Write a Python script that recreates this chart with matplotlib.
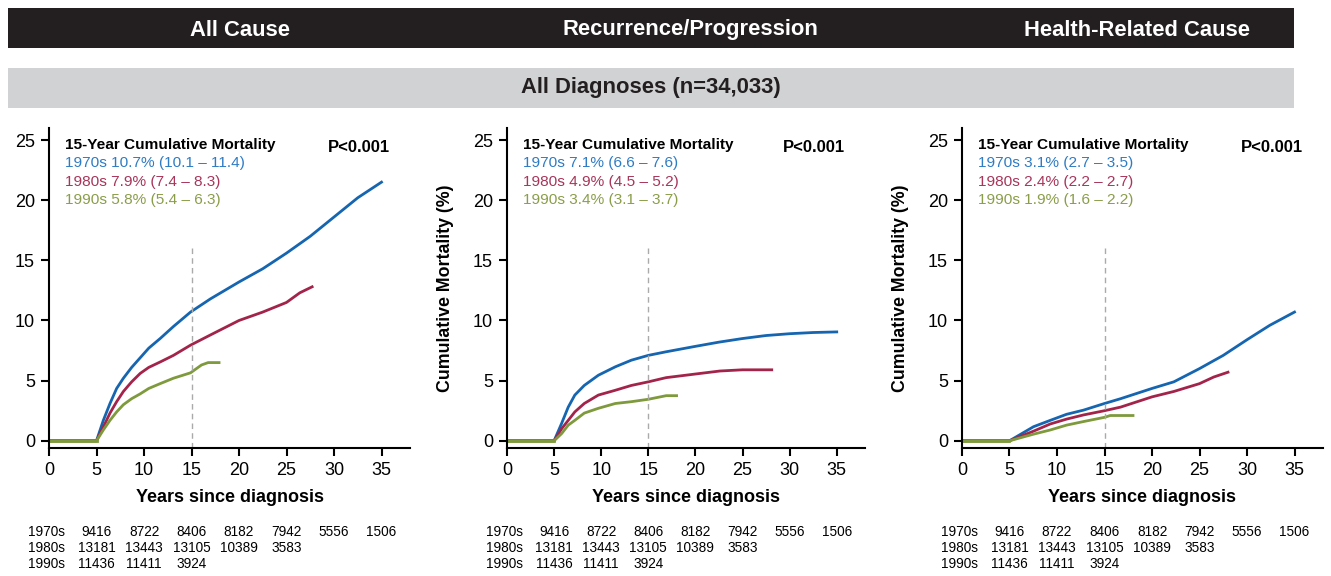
import numpy as np
import matplotlib.pyplot as plt
import matplotlib.transforms as mtransforms
from matplotlib.patches import Rectangle

plt.rcParams['font.family'] = ['Liberation Sans', 'DejaVu Sans']

# data (years since diagnosis, cumulative mortality %)
# all cause
all_yrs_70 = [0, 5, 5.72, 6.42, 7.12, 7.83, 8.7, 9.6, 10.5, 11.7, 13.1, 14.9, 17.0, 20, 22.5, 25, 27.5, 30, 32.5, 35]
all_70 = [0, 0, 1.7, 3.1, 4.35, 5.2, 6.1, 6.9, 7.7, 8.5, 9.5, 10.7, 11.8, 13.2, 14.3, 15.6, 17.0, 18.6, 20.2, 21.5]
all_yrs_80 = [0, 5, 5.72, 6.42, 7.12, 7.83, 8.7, 9.6, 10.5, 11.7, 13.1, 14.9, 17.0, 20, 22.5, 25, 26.4, 27.7]
all_80 = [0, 0, 1.15, 2.3, 3.25, 4.1, 4.9, 5.6, 6.1, 6.55, 7.1, 7.95, 8.8, 10.0, 10.7, 11.5, 12.3, 12.8]
all_yrs_90 = [0, 5, 5.72, 6.42, 7.12, 7.83, 8.7, 9.6, 10.5, 11.7, 13.1, 14.9, 16.05, 16.75, 17.9]
all_90 = [0, 0, 0.9, 1.7, 2.4, 3.0, 3.5, 3.9, 4.35, 4.75, 5.2, 5.65, 6.3, 6.5, 6.5]

# recurrence / progression
rec_yrs_70 = [0, 5, 5.8, 6.5, 7.2, 8.2, 9.7, 11.5, 13.2, 15, 16.9, 20, 22.5, 25, 27.5, 30, 32.5, 35]
rec_70 = [0, 0, 1.45, 2.8, 3.8, 4.6, 5.45, 6.15, 6.7, 7.1, 7.4, 7.85, 8.2, 8.5, 8.75, 8.9, 9.0, 9.05]
rec_yrs_80 = [0, 5, 5.8, 6.5, 7.2, 8.2, 9.7, 11.5, 13.2, 15, 16.9, 20, 22.6, 25, 28.1]
rec_80 = [0, 0, 1.0, 1.7, 2.4, 3.1, 3.8, 4.2, 4.6, 4.9, 5.25, 5.55, 5.8, 5.9, 5.9]
rec_yrs_90 = [0, 5, 5.8, 6.5, 7.2, 8.2, 9.7, 11.5, 13.2, 15, 16.9, 18.0]
rec_90 = [0, 0, 0.6, 1.3, 1.7, 2.3, 2.7, 3.1, 3.25, 3.45, 3.75, 3.75]

# health-related cause
hr_yrs_70 = [0, 5, 7.53, 9.3, 11.0, 12.8, 15, 16.7, 20, 22.3, 25, 27.5, 30, 32.4, 35]
hr_70 = [0, 0, 1.17, 1.7, 2.2, 2.55, 3.1, 3.5, 4.35, 4.9, 6.0, 7.1, 8.4, 9.6, 10.7]
hr_yrs_80 = [0, 5, 7.53, 9.3, 11.0, 12.8, 15, 16.7, 20, 22.3, 25, 26.5, 28.0]
hr_80 = [0, 0, 0.8, 1.4, 1.8, 2.15, 2.5, 2.8, 3.65, 4.1, 4.75, 5.3, 5.7]
hr_yrs_90 = [0, 5, 7.53, 9.3, 11.0, 12.8, 15, 15.6, 18]
hr_90 = [0, 0, 0.55, 0.9, 1.3, 1.6, 1.95, 2.1, 2.1]

titles = ['All Cause', 'Recurrence/Progression', 'Health-Related Cause']
legend_lines = [
    ['1970s 10.7% (10.1 \u2013 11.4)', '1980s 7.9% (7.4 \u2013 8.3)', '1990s 5.8% (5.4 \u2013 6.3)'],
    ['1970s 7.1% (6.6 \u2013 7.6)', '1980s 4.9% (4.5 \u2013 5.2)', '1990s 3.4% (3.1 \u2013 3.7)'],
    ['1970s 3.1% (2.7 \u2013 3.5)', '1980s 2.4% (2.2 \u2013 2.7)', '1990s 1.9% (1.6 \u2013 2.2)'],
]
cohorts = ['1970s', '1980s', '1990s']
risk_years = [5, 10, 15, 20, 25, 30, 35]
at_risk = [
    [9416, 8722, 8406, 8182, 7942, 5556, 1506],
    [13181, 13443, 13105, 10389, 3583],
    [11436, 11411, 3924],
]

panels = [
    [(all_yrs_70, all_70), (all_yrs_80, all_80), (all_yrs_90, all_90)],
    [(rec_yrs_70, rec_70), (rec_yrs_80, rec_80), (rec_yrs_90, rec_90)],
    [(hr_yrs_70, hr_70), (hr_yrs_80, hr_80), (hr_yrs_90, hr_90)],
]

line_cols = ['#1565b0', '#a3244a', '#7e9a3c']
text_cols = ['#2e7cc4', '#a8355a', '#8a9e4a']

W, H = 1331, 576
fig = plt.figure(figsize=(W / 100, H / 100), dpi=100)

# header bars
fig.patches.append(Rectangle((8 / W, 1 - 48 / H), 1286 / W, 40 / H, transform=fig.transFigure,
                             facecolor='#231f20', edgecolor='none'))
fig.patches.append(Rectangle((8 / W, 1 - 108 / H), 1286 / W, 40 / H, transform=fig.transFigure,
                             facecolor='#d1d2d4', edgecolor='none'))
for t, cx in zip(titles, [240, 690, 1137]):
    fig.text(cx / W, 1 - 30 / H, t, color='white', fontsize=15.8, fontweight='bold', ha='center', va='center')
fig.text(651 / W, 1 - 88 / H, 'All Diagnoses (n=34,033)', color='#231f20', fontsize=15.8,
         fontweight='bold', ha='center', va='center')

lefts = [49, 507, 962]
widths = [361, 358, 361]
for i in range(3):
    ax = fig.add_axes([lefts[i] / W, (H - 448) / H, widths[i] / W, 320 / H])
    for (x, y), c in zip(panels[i], line_cols):
        ax.plot(x, y, color=c, lw=2)
    # green sits on top of the flat part before year 5
    ax.plot([0, 5], [0, 0], color=line_cols[2], lw=2)
    ax.plot([15, 15], [-0.6, 16], color='#aaaaaa', lw=1, ls=(0, (4, 3)))
    ax.set_xlim(0, 38)
    ax.set_ylim(-0.6, 26)
    ax.set_xticks(range(0, 36, 5))
    ax.set_yticks(range(0, 26, 5))
    ax.spines['top'].set_visible(False)
    ax.spines['right'].set_visible(False)
    for s in ['left', 'bottom']:
        ax.spines[s].set_linewidth(1.5)
    ax.tick_params(width=1.5, length=6, labelsize=13, pad=4)
    ax.set_xlabel('Years since diagnosis', fontsize=13, fontweight='bold', labelpad=7)
    if i > 0:
        ax.set_ylabel('Cumulative Mortality (%)', fontsize=12.8, fontweight='bold', labelpad=13.5)

    ax.text(1.65, 24.6, '15-Year Cumulative Mortality', fontsize=11.1, fontweight='bold', va='center')
    for k, (s, c) in enumerate(zip(legend_lines[i], text_cols)):
        ax.text(1.65, 23.1 - k * 1.55, s, fontsize=11.1, color=c, va='center')
    ax.text(35.9, 24.4, 'P<0.001', fontsize=12, fontweight='bold', ha='right', va='center')

    trans = mtransforms.blended_transform_factory(ax.transData, fig.transFigure)
    for r, (name, vals) in enumerate(zip(cohorts, at_risk)):
        yy = 1 - (532 + r * 16) / H
        ax.text(-0.3, yy, name, transform=trans, fontsize=9.8, ha='center', va='center', clip_on=False)
        for xv, v in zip(risk_years, vals):
            ax.text(xv, yy, str(v), transform=trans, fontsize=9.8, ha='center', va='center', clip_on=False)

fig.savefig('out.png', dpi=100)
